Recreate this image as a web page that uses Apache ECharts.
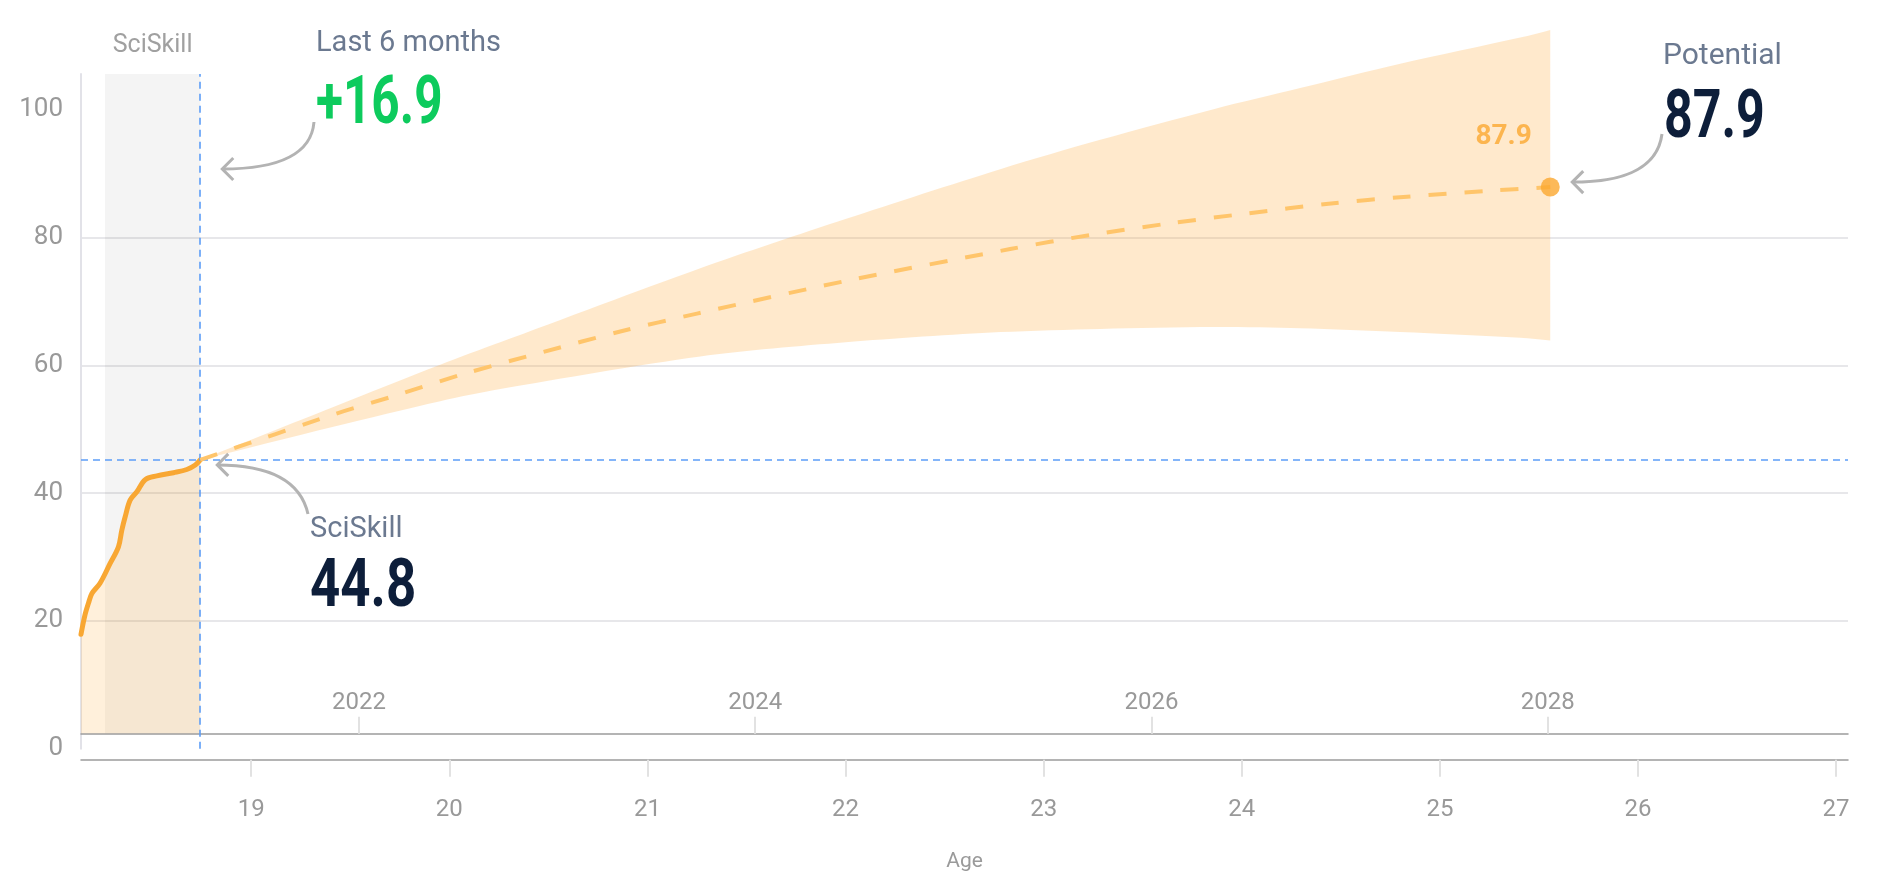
<!DOCTYPE html>
<html><head><meta charset="utf-8">
<script src="https://cdn.jsdelivr.net/npm/echarts@6/dist/echarts.min.js"></script>
<style>html,body{margin:0;padding:0;background:#fff}#c{width:1894px;height:886px}</style>
</head><body><div id="c"></div>
<script>
// ---------- data ----------
const ageTicks = [19, 20, 21, 22, 23, 24, 25, 26, 27];
const yearTicks = [2022, 2024, 2026, 2028];
const yTicks = [0, 20, 40, 60, 80, 100];
const ageRange = [18.141, 27.06];
const valueRange = [0, 105.6];
const birthOffset = 2002.456; // calendar year = age + offset
const baseline = 2.4;

const historyAge   = [18.141, 18.160, 18.179, 18.196, 18.237, 18.288, 18.330, 18.347, 18.364, 18.389, 18.423, 18.465, 18.524, 18.608, 18.675, 18.718, 18.743];
const historyValue = [17.9,   20.8,   22.8,   24.3,   25.9,   29.0,   31.6,   34.2,   36.3,   38.9,   40.2,   42.1,   42.7,   43.2,   43.7,   44.4,   45.2];

const windowStartAge = 18.262;
const currentAge = 18.743;
const currentValue = 45.2;

const projAge   = [18.743, 19.415, 19.710, 20.089, 20.476, 20.863, 21.250, 22.000, 22.831, 23.235, 23.631, 24.034, 24.438, 24.834, 25.238, 25.557];
const projValue = [45.2,   52.3,   55.1,   58.8,   62.1,   65.3,   68.1,   73.2,   78.2,   80.4,   82.2,   83.8,   85.3,   86.4,   87.3,   87.9];

const bandAge  = [18.743, 19.415, 19.954, 20.257, 21.267, 22.000, 22.781, 23.286, 23.858, 24.295, 24.800, 25.406, 25.557];
const bandLow  = [45.2,   50.4,   54.4,   56.3,   61.4,   63.6,   65.2,   65.7,   66.0,   65.8,   65.2,   64.3,   63.9];
const bandHigh = [45.2,   53.5,   60.1,   63.6,   75.2,   82.9,   90.7,   95.3,   100.1,  103.4,  107.2,  111.3,  112.5];

const txt = {
  skill: 'SciSkill', lastPeriod: 'Last 6 months', change: '+16.9',
  current: '44.8', potentialTitle: 'Potential', potential: '87.9', axisName: 'Age'
};

// ---------- chart ----------
const FONT = 'Roboto';
const zip = (a, b) => a.map((v, i) => [v, b[i]]);
const chart = echarts.init(document.getElementById('c'));

function renderBand(params, api) {
  if (params.dataIndex !== 0) return null;
  const up = bandAge.map((a, i) => api.coord([a, bandHigh[i]]));
  const lo = bandAge.map((a, i) => api.coord([a, bandLow[i]]));
  const n = bandAge.length;
  // duplicated corner points keep the corners sharp while the edges stay smooth
  const pts = up.concat([up[n - 1], lo[n - 1]], lo.slice().reverse());
  return {
    type: 'polygon',
    shape: { points: pts, smooth: 0.3 },
    style: { fill: 'rgba(255,168,52,0.25)', stroke: null }
  };
}

const option = {
  animation: false,
  backgroundColor: '#fff',
  textStyle: { fontFamily: FONT },
  grid: { left: 81, right: 46, top: 74, bottom: 137.3, containLabel: false },
  xAxis: [
    {
      type: 'value', min: ageRange[0], max: ageRange[1], position: 'bottom', offset: 11,
      name: txt.axisName, nameLocation: 'middle', nameGap: 92,
      nameTextStyle: { color: '#9a9a9a', fontSize: 21, fontFamily: FONT },
      axisLine: { show: true, onZero: false, lineStyle: { color: '#9c9c9c', width: 1.5 } },
      axisTick: { show: true, length: 17, customValues: ageTicks, lineStyle: { color: '#e2e2e2', width: 2 } },
      axisLabel: { customValues: ageTicks, margin: 38, color: '#999', fontSize: 24, fontFamily: FONT },
      splitLine: { show: false }
    },
    {
      type: 'value', min: ageRange[0] + birthOffset, max: ageRange[1] + birthOffset, position: 'bottom', offset: -15,
      axisLine: { show: true, onZero: false, lineStyle: { color: '#9c9c9c', width: 1.5 } },
      axisTick: { show: true, inside: true, length: 17, customValues: yearTicks, lineStyle: { color: '#e2e2e2', width: 2 } },
      axisLabel: { inside: true, customValues: yearTicks, margin: 19, color: '#999', fontSize: 24, fontFamily: FONT,
                   formatter: v => String(Math.round(v)) },
      splitLine: { show: false }
    }
  ],
  yAxis: {
    type: 'value', min: valueRange[0], max: valueRange[1],
    axisLine: { show: true, lineStyle: { color: '#e2e2e8', width: 2 } },
    axisTick: { show: false, customValues: yTicks },
    axisLabel: { customValues: yTicks, margin: 18, color: '#999', fontSize: 26, fontFamily: FONT },
    splitLine: { show: true, showMaxLine: false, showMinLine: false, lineStyle: { color: '#e7e7ea', width: 2 } }
  },
  series: [
    {
      name: 'history', type: 'line', data: zip(historyAge, historyValue),
      showSymbol: false, symbol: 'none', smooth: 0.35, z: 4,
      lineStyle: { color: '#F8A733', width: 5, cap: 'round' },
      areaStyle: { color: 'rgba(255,168,52,0.25)', origin: baseline },
      markArea: {
        silent: true,
        itemStyle: { color: 'rgba(0,0,0,0.045)' },
        label: { show: true, position: 'top', distance: 16, color: '#a0a0a0', fontSize: 25, fontFamily: FONT },
        data: [[{ name: txt.skill, xAxis: windowStartAge, yAxis: baseline }, { xAxis: currentAge, yAxis: valueRange[1] }]]
      },
      markLine: {
        silent: true, symbol: ['none', 'none'], label: { show: false },
        lineStyle: { color: '#5C9DF7', type: [7, 5], width: 1.6 },
        data: [{ xAxis: currentAge }, { yAxis: currentValue }]
      }
    },
    {
      name: 'band', type: 'custom', clip: false, z: 2, silent: true,
      data: bandAge.map((a, i) => [a, bandLow[i], bandHigh[i]]),
      encode: { x: 0, y: [1, 2] },
      renderItem: renderBand
    },
    {
      name: 'projection', type: 'line', data: zip(projAge, projValue),
      symbol: 'none', smooth: 0.3, z: 5,
      lineStyle: { color: '#FFC56B', width: 4, type: [18, 18] }
    },
    {
      name: 'potential', type: 'scatter', z: 6,
      data: [[projAge[projAge.length - 1], projValue[projValue.length - 1]]],
      symbolSize: 19, itemStyle: { color: '#FBA72F' },
      label: { show: true, position: 'left', offset: [-4, -50], color: '#FBA72F', fontSize: 28, fontWeight: 'bold',
               fontFamily: FONT, formatter: p => p.value[1].toFixed(1) }
    }
  ]
};
chart.setOption(option);

// ---------- annotations ----------
const px = v => chart.convertToPixel({ xAxisIndex: 0 }, v);
const py = v => chart.convertToPixel({ yAxisIndex: 0 }, v);
const cur = [px(currentAge), py(currentValue)];
const pot = [px(projAge[projAge.length - 1]), py(projValue[projValue.length - 1])];

const ARROW = '#b3b3b3';
function arrow(x1, y1, c1x, c1y, c2x, c2y, tx, ty) {
  return { type: 'group', silent: true, children: [
    { type: 'bezierCurve', shape: { x1: x1, y1: y1, x2: tx, y2: ty, cpx1: c1x, cpy1: c1y, cpx2: c2x, cpy2: c2y },
      style: { stroke: ARROW, lineWidth: 3, fill: 'none' } },
    { type: 'polyline', shape: { points: [[tx + 11, ty - 11], [tx, ty], [tx + 11, ty + 11]] },
      style: { stroke: ARROW, lineWidth: 3, fill: 'none' } }
  ] };
}
function text(x, y, s, size, color, bold, sx) {
  return { type: 'text', x: x, y: y, scaleX: sx || 1, silent: true,
    style: { text: s, fontSize: size, fontWeight: bold ? 'bold' : 'normal', fontFamily: FONT, fill: color,
             align: 'left', verticalAlign: 'middle' } };
}
const SLATE = '#6b7990', NAVY = '#0D1E3A', GREEN = '#0DCB5D';
chart.setOption({
  graphic: [
    text(316, 44, txt.lastPeriod, 29, SLATE, false),
    text(316, 106, txt.change, 66, GREEN, true, 0.75),
    arrow(314, 122, 311, 158, 272, 169, cur[0] + 22, 169),
    text(310, 530, txt.skill, 29, SLATE, false),
    text(310, 589, txt.current, 66, NAVY, true, 0.8),
    arrow(308, 514, 300, 478, 265, cur[1] + 5, cur[0] + 17, cur[1] + 5),
    text(1663, 56, txt.potentialTitle, 30, SLATE, false),
    text(1664, 120, txt.potential, 66, NAVY, true, 0.76),
    arrow(1662, 134, 1657, 172, 1618, pot[1] - 5, pot[0] + 22, pot[1] - 5)
  ]
});
</script></body></html>
